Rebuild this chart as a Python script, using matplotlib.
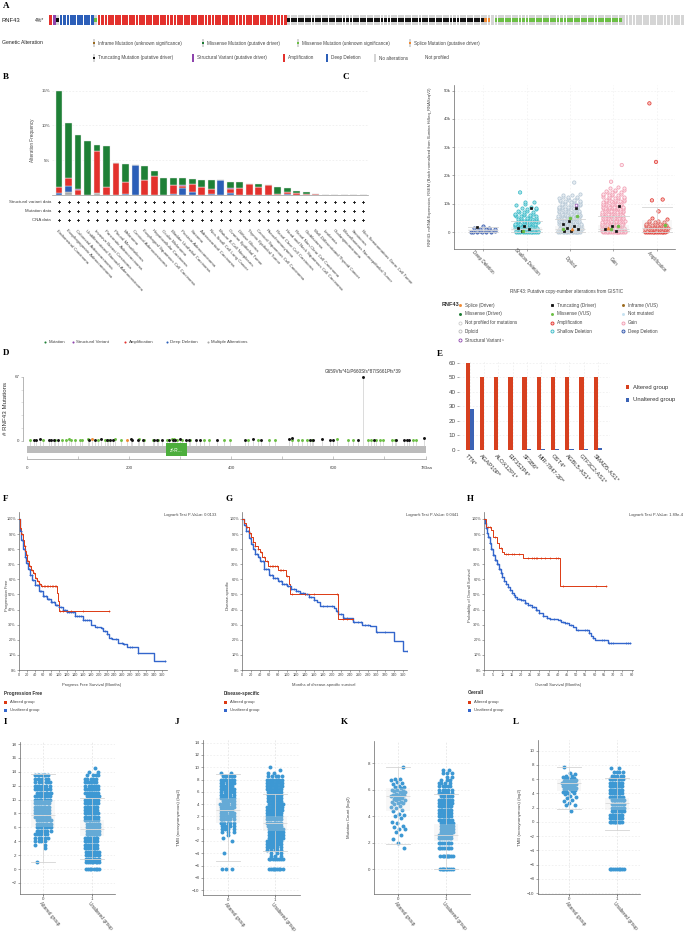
import numpy as np
import matplotlib
matplotlib.use('Agg')
import matplotlib.pyplot as plt
from matplotlib.patches import Rectangle
from matplotlib.transforms import blended_transform_factory as blend

plt.rcParams['font.family'] = ['Liberation Sans', 'DejaVu Sans']
plt.rcParams['axes.linewidth'] = 0.5
plt.rcParams['xtick.major.width'] = 0.4
plt.rcParams['ytick.major.width'] = 0.4
plt.rcParams['xtick.major.size'] = 1.5
plt.rcParams['ytick.major.size'] = 1.5
plt.rcParams['xtick.major.pad'] = 1
plt.rcParams['ytick.major.pad'] = 1

# ---------------- data ----------------
# A: oncoprint, runs of samples
onco_kind = ['amp', 'sv', 'trunc', 'del', 'miss', 'amp', 'trunc', 'splice', 'none', 'miss', 'none']
onco_n = [1, 1, 1, 10, 1, 55, 57, 2, 1, 37, 18]

# B: alteration frequency by cancer type (%)
cancer_types = ['Endometrial Carcinoma', 'Esophagogastric Adenocarcinoma', 'Colorectal Adenocarcinoma',
                'Undifferentiated Stomach Adenocarcinoma', 'Invasive Breast Carcinoma',
                'Pancreatic Adenocarcinoma', 'Pleural Mesothelioma', 'Melanoma', 'Cervical Adenocarcinoma',
                'Esophageal Squamous Cell Carcinoma', 'Hepatocellular Carcinoma', 'Ocular Melanoma',
                'Bladder Urothelial Carcinoma', 'Prostate Adenocarcinoma', 'Sarcoma',
                'Adrenocortical Carcinoma', 'Non-Small Cell Lung Cancer', 'Mature B-Cell Neoplasms',
                'Ovarian Epithelial Tumor', 'Diffuse Glioma', 'Thymic Epithelial Tumor',
                'Cervical Squamous Cell Carcinoma', 'Pheochromocytoma', 'Renal Clear Cell Carcinoma',
                'Head and Neck Squamous Cell Carcinoma', 'Renal Non-Clear Cell Carcinoma', 'Glioblastoma',
                'Well-Differentiated Thyroid Cancer', 'Leukemia', 'Cholangiocarcinoma',
                'Miscellaneous Neuroepithelial Tumor', 'Seminoma', 'Non-Seminomatous Germ Cell Tumor']
b_multi = [0, 0.4, 0, 0, 0.3, 0, 0, 0, 0, 0, 0, 0, 0, 0, 0, 0, 0, 0, 0, 0, 0, 0, 0, 0, 0, 0, 0, 0, 0, 0, 0, 0, 0]
b_del = [0.3, 0.9, 0, 0, 0, 0, 0, 0.2, 4.3, 0, 0, 0, 0.2, 1.0, 0.4, 0, 0.2, 2.1, 0.3, 0, 0, 0, 0, 0, 0.1, 0, 0, 0, 0, 0, 0, 0, 0]
b_amp = [0.8, 1.2, 0.7, 0, 6.0, 1.1, 4.6, 1.6, 0, 2.1, 2.7, 0, 1.2, 0.3, 1.2, 1.1, 0.6, 0, 0.5, 1.0, 1.6, 1.2, 1.4, 0.2, 0.3, 0.3, 0.2, 0.2, 0, 0, 0, 0, 0]
b_sv = [0, 0, 0.15, 0, 0, 0, 0, 0, 0, 0, 0, 0, 0, 0.1, 0, 0, 0, 0, 0.15, 0, 0, 0, 0, 0, 0.1, 0, 0, 0, 0, 0, 0, 0, 0]
b_mut = [13.9, 7.8, 7.8, 7.7, 0.9, 6.0, 0, 2.7, 0, 2.1, 0.8, 2.5, 1.0, 1.0, 0.7, 1.1, 1.3, 0, 0.9, 0.8, 0, 0.4, 0, 1.0, 0.5, 0.3, 0.3, 0, 0, 0, 0, 0, 0]

# C: mRNA expression (k) by copy number; counts of samples per level
cna_names = ['Deep Deletion', 'Shallow Deletion', 'Diploid', 'Gain', 'Amplification']
c_levels = [0, 0.5, 1, 1.5, 2, 2.5, 3, 3.5, 4, 4.5, 5, 5.5, 6, 6.5, 7, 7.5, 8, 8.5, 9, 9.5,
            10, 10.5, 11, 11.5, 12, 12.5, 13, 13.5, 14, 14.5, 15, 15.5, 16]
c_counts = [
    [6, 5, 4, 2, 1, 0, 0, 0, 0, 0, 0, 0, 0, 0, 0, 0, 0, 0, 0, 0, 0, 0, 0, 0, 0, 0, 0, 0, 0, 0, 0, 0, 0],
    [12, 12, 11, 10, 9, 8, 7, 6, 5, 5, 4, 4, 3, 3, 3, 2, 2, 2, 1, 1, 1, 2, 0, 0, 0, 0, 0, 0, 0, 0, 0, 0, 0],
    [14, 14, 13, 12, 11, 10, 9, 9, 8, 8, 7, 7, 6, 6, 6, 5, 5, 5, 5, 4, 4, 4, 4, 3, 3, 3, 2, 1, 0, 0, 0, 0, 0],
    [14, 14, 13, 12, 11, 10, 10, 9, 9, 8, 8, 8, 7, 7, 7, 6, 6, 6, 6, 5, 5, 5, 5, 4, 4, 4, 4, 3, 3, 2, 2, 2, 1],
    [12, 12, 10, 9, 7, 6, 4, 3, 2, 1, 1, 0, 0, 0, 0, 0, 0, 0, 0, 0, 0, 0, 0, 0, 0, 0, 0, 0, 0, 0, 0, 0, 0],
]
c_out_cat = [1, 2, 3, 3, 4, 4, 4, 4, 4]
c_out_val = [14.0, 17.5, 17.8, 23.7, 7.3, 11.2, 11.5, 24.8, 45.5]
c_mut_cat = [0, 1, 1, 1, 1, 1, 2, 2, 2, 2, 2, 2, 2, 2, 3, 3, 3, 3, 1, 2, 2, 2, 3, 3, 4, 2, 3, 2]
c_mut_val = [1.8, 8.4, 2.0, 1.5, 1.0, 0.5, 8.4, 4.0, 3.0, 2.0, 1.5, 1.0, 0.5, 0.3, 9.2, 2.0, 1.0, 0.5,
             0.3, 5.5, 5.0, 1.2, 2.2, 1.0, 2.5, 1.2, 1.5, 9.4]
c_mut_kind = ['trunc'] * 18 + ['vus'] * 7 + ['splice'] * 2 + ['sv']
c_box = [[0, 0.3, 0.6, 1.0, 1.8], [0, 0.4, 0.9, 1.8, 4.0], [0, 0.5, 1.1, 2.0, 4.5],
         [0.2, 0.6, 1.2, 2.5, 5.5], [0, 0.5, 1.5, 4.2, 9.0]]

# D: lollipop (protein position, count)
mis_pos = [5, 31, 55, 68, 77, 82, 86, 93, 103, 108, 119, 139, 153, 158, 173, 184, 220, 230, 247, 256,
           274, 284, 288, 294, 303, 320, 347, 357, 386, 397, 434, 453, 475, 486, 520, 532, 540, 548,
           558, 608, 629, 639, 669, 675, 685, 691, 698, 716, 721, 757, 763]
mis_cnt = [1, 1, 1, 1, 1, 2, 1, 1, 1, 1, 2, 1, 1, 1, 2, 1, 2, 1, 1, 1, 1, 2, 2, 1, 1, 1, 1, 1, 1, 1,
           1, 1, 1, 1, 1, 1, 1, 1, 1, 2, 1, 1, 1, 1, 1, 1, 1, 1, 1, 1, 1]
trunc_pos = [13, 18, 25, 42, 47, 52, 60, 121, 134, 145, 157, 163, 168, 204, 206, 217, 227, 248, 254,
             264, 279, 287, 290, 300, 312, 318, 331, 339, 372, 427, 442, 458, 514, 519, 554, 561, 578,
             594, 600, 649, 659, 681, 724, 740, 744, 749, 778]
trunc_cnt = [1, 1, 2, 1, 1, 1, 1, 1, 1, 2, 1, 1, 1, 2, 1, 1, 1, 1, 1, 1, 1, 1, 1, 2, 1, 1, 1, 1, 1,
             1, 2, 1, 2, 3, 1, 1, 2, 1, 1, 1, 67, 1, 1, 1, 1, 1, 3]
splice_pos = [127, 196]
splice_cnt = [2, 1]
hotspot_label = 'G659Vfs*41/P660Sfs*87/S661Pfs*39'

# E: co-occurring genes (%)
e_genes = ['TTN*', 'AGAP10P*', 'ALOX12P1*', 'EIF3S2P4*', 'SF3B6*', 'MIR-7847-3P*', 'OST4*',
           'AGBL5-AS1*', 'GTF3C2-AS1*', 'SMAD5-AS1*']
e_altered = [60, 50, 50, 50, 50, 50, 50, 50, 50, 50]
e_unaltered = [28.5, 0.3, 0.3, 0.3, 1.0, 0.6, 1.0, 1.0, 1.0, 1.2]

# F, G, H: Kaplan-Meier steps
f_alt_t = [0, 3, 6, 9, 12, 15, 18, 21, 25, 30, 35, 40, 45, 50, 55, 95, 97, 100]
f_alt_s = [1.0, 0.94, 0.90, 0.86, 0.82, 0.79, 0.76, 0.72, 0.69, 0.66, 0.64, 0.61, 0.59, 0.57, 0.555, 0.51, 0.46, 0.39]
f_alt_end = 225
f_alt_c = [8, 14, 20, 23, 28, 33, 38, 42, 48, 52, 58, 62, 66, 70, 74, 78, 82, 86, 90, 93, 102, 110, 130, 160, 225]
f_un_t = [0, 3, 6, 10, 14, 18, 22, 27, 33, 40, 50, 60, 70, 80, 90, 100, 110, 120, 140, 160, 180, 190,
          205, 212, 220, 226, 235, 248, 262, 272, 300, 340]
f_un_s = [1.0, 0.92, 0.86, 0.80, 0.75, 0.71, 0.67, 0.63, 0.595, 0.56, 0.52, 0.49, 0.47, 0.45, 0.43, 0.415,
          0.40, 0.385, 0.355, 0.33, 0.30, 0.285, 0.275, 0.255, 0.24, 0.215, 0.205, 0.18, 0.17, 0.15, 0.11, 0.06]
f_un_end = 368
f_un_c = [5, 8, 12, 16, 20, 24, 28, 32, 36, 40, 44, 48, 52, 56, 60, 64, 68, 72, 76, 80, 84, 88, 92, 96,
          100, 105, 110, 115, 120, 125, 130, 135, 140, 145, 150, 155, 160, 165, 170, 175, 195, 208, 215,
          222, 230, 245, 258, 265, 280, 285, 300, 368]

g_alt_t = [0, 5, 10, 15, 20, 25, 30, 35, 40, 45, 52, 58, 80, 98, 105, 108, 215]
g_alt_s = [1.0, 0.97, 0.945, 0.91, 0.88, 0.85, 0.82, 0.80, 0.78, 0.75, 0.72, 0.69, 0.665, 0.625, 0.57, 0.505, 0.34]
g_alt_end = 247
g_alt_c = [12, 18, 25, 30, 36, 42, 48, 55, 62, 66, 70, 74, 78, 84, 88, 92, 100, 112, 140, 160, 212, 225, 235, 245]
g_un_t = [0, 5, 10, 15, 20, 25, 30, 35, 40, 50, 60, 70, 80, 90, 100, 110, 120, 130, 140, 150, 160, 168,
          175, 205, 210, 215, 225, 248, 268, 285, 298, 340, 358]
g_un_s = [1.0, 0.96, 0.92, 0.875, 0.835, 0.80, 0.77, 0.745, 0.72, 0.67, 0.63, 0.61, 0.59, 0.57, 0.555,
          0.535, 0.52, 0.51, 0.50, 0.48, 0.465, 0.45, 0.425, 0.41, 0.39, 0.37, 0.345, 0.32, 0.30, 0.29,
          0.25, 0.19, 0.125]
g_un_end = 368
g_un_c = [6, 10, 14, 18, 22, 26, 30, 34, 38, 42, 46, 50, 54, 58, 62, 66, 70, 74, 78, 82, 86, 90, 94, 98,
          102, 106, 110, 115, 120, 125, 130, 135, 140, 145, 150, 155, 160, 180, 190, 200, 212, 220, 228,
          235, 250, 258, 265, 275, 280, 300, 318, 368]

h_alt_t = [0, 1, 4, 5, 7, 8, 10, 11, 21, 41]
h_alt_s = [1.0, 0.95, 0.93, 0.88, 0.84, 0.81, 0.78, 0.77, 0.74, 0.555]
h_alt_end = 66
h_alt_c = [2, 3, 6, 9, 12, 13, 15, 16, 19, 24, 26, 27, 28, 29, 31, 33, 36, 39, 40, 43, 61, 66]
h_un_t = [0, 0.5, 1, 1.5, 2, 3, 4, 5, 6, 7, 8, 9, 10, 11, 12, 13, 14, 15, 16, 17, 18, 20, 22, 24, 26,
          28, 30, 32, 34, 36, 40, 42, 44, 46, 48, 50, 57, 58, 59, 60, 67]
h_un_s = [1.0, 0.97, 0.94, 0.91, 0.88, 0.84, 0.80, 0.76, 0.73, 0.70, 0.67, 0.64, 0.615, 0.59, 0.57, 0.55,
          0.53, 0.51, 0.495, 0.48, 0.47, 0.465, 0.445, 0.43, 0.415, 0.40, 0.38, 0.36, 0.345, 0.335, 0.33,
          0.32, 0.31, 0.30, 0.285, 0.265, 0.245, 0.225, 0.215, 0.20, 0.18]
h_un_end = 79
h_un_c = [0.5, 1, 1.5, 2, 2.5, 3, 3.5, 4, 4.5, 5, 5.5, 6, 6.5, 7, 7.5, 8, 8.5, 9, 9.5, 10, 11, 12, 13,
          14, 15, 16, 17, 18, 19, 20, 21, 22, 23, 24, 25, 26, 27, 28, 29, 30, 32, 34, 36, 38, 41, 43,
          44, 45, 47, 51, 55, 56, 57, 59, 64, 65, 68, 69, 70, 77, 78, 79]

groups = ['Altered group', 'Unaltered group']

# I: unnamed log2 measure
i_levels = [0, 0.5, 1, 1.5, 2, 2.5, 3, 3.5, 4, 4.5, 5, 5.5, 6, 6.5, 7, 7.5, 8, 8.5, 9, 9.5,
            10, 10.5, 11, 11.5, 12, 12.5, 13, 13.5, 14, 14.5]
i_alt_n = [0, 0, 1, 0, 0, 0, 1, 2, 4, 5, 6, 7, 8, 8, 8, 8, 8, 8, 8, 8, 8, 8, 8, 8, 7, 6, 6, 7, 0, 0]
i_un_n = [8, 0, 8, 8, 8, 8, 8, 8, 8, 8, 8, 8, 8, 8, 8, 8, 8, 8, 8, 8, 8, 8, 8, 8, 7, 6, 5, 4, 2, 1]
i_box = [[1.0, 6.0, 7.8, 10.0, 13.7], [1.5, 4.8, 5.8, 7.0, 10.3]]

# J: TMB (log2)
j_levels = [-6.6, -5, -4.5, -4, -3.5, -3, -2.5, -2, -1.5, -1, -0.5, 0, 0.5, 1, 1.5, 2, 2.5, 3, 3.5, 4,
            4.5, 5, 5.5, 6, 6.5, 7, 7.5, 8, 8.5, 9, 9.5, 10]
j_alt_n = [3, 0, 0, 1, 0, 0, 0, 1, 1, 1, 3, 4, 5, 6, 7, 7, 7, 7, 7, 7, 7, 7, 7, 7, 7, 7, 7, 7, 7, 2, 0, 0]
j_un_n = [9, 8, 3, 3, 5, 7, 8, 8, 8, 8, 8, 8, 8, 8, 8, 8, 8, 8, 8, 8, 8, 8, 8, 8, 8, 8, 8, 8, 5, 2, 1, 1]
j_box = [[-5.2, 1.0, 3.0, 5.0, 8.9], [-3.6, -0.3, 0.9, 2.0, 5.6]]

# K: mutation count (log2)
k_alt = [1.6, 2.0, 2.3, 2.6, 2.8, 3.0, 3.0, 3.2, 3.3, 3.5, 3.6, 3.9, 4.0, 4.1, 4.2, 4.4, 4.5, 4.6, 4.7,
         4.8, 4.9, 5.0, 5.0, 5.1, 5.1, 5.2, 5.2, 5.3, 5.3, 5.4, 5.4, 5.5, 5.5, 5.5, 5.6, 5.6, 5.6, 5.7,
         5.7, 5.8, 5.8, 5.9, 5.9, 6.0, 6.0, 6.1, 6.2, 6.2, 6.3, 6.4, 6.5, 6.6, 6.7, 6.8, 6.8, 7.7]
k_levels = [0, 1, 1.58, 2, 2.32, 2.58, 2.81, 3.0, 3.25, 3.5, 3.75, 4.0, 4.25, 4.5, 4.75, 5.0, 5.25, 5.5,
            5.75, 6.0, 6.25, 6.5, 6.75, 7.0, 7.25, 7.5]
k_un_n = [9, 9, 8, 8, 8, 8, 8, 8, 8, 8, 8, 8, 8, 8, 8, 8, 8, 7, 6, 5, 5, 4, 3, 2, 3, 2]
k_box = [[1.9, 4.4, 5.5, 6.1, 7.7], [0.0, 2.1, 2.6, 3.4, 5.7]]

# L: TMB (log2)
l_alt = [1.5, 2.3, 2.4, 2.7, 2.9, 3.1, 3.3, 3.5, 3.7, 3.9, 4.0, 4.1, 4.2, 4.3, 4.4, 4.5, 4.6, 4.6, 4.7,
         4.8, 4.8, 4.9, 5.0, 5.0, 5.1, 5.1, 5.2, 5.2, 5.3, 5.3, 5.4, 5.4, 5.5, 5.5, 5.6, 5.6, 5.7, 5.7,
         5.8, 5.8, 5.9, 5.9, 6.0, 6.0, 6.1, 6.2, 6.3, 6.4, 6.5, 6.7, 6.9, 7.7]
l_levels = [-6.6, 0, 0.5, 1, 1.5, 2, 2.5, 3, 3.5, 4, 4.5, 5, 5.5, 6, 6.5, 7, 7.5]
l_un_n = [9, 9, 8, 8, 8, 8, 8, 8, 8, 8, 8, 8, 8, 7, 5, 4, 2]
l_box = [[1.8, 4.4, 5.4, 6.0, 7.7], [-1.2, 1.6, 2.6, 3.3, 6.1]]

# ---------------- style ----------------
C_AMP = '#e3312d'
C_DEL = '#2c5fb8'
C_SV = '#8e44ad'
C_MUT = '#1e8036'
C_MISS = '#6bbf44'
C_MISSD = '#1a7a32'
C_TRUNC = '#111111'
C_SPLICE = '#f08a34'
C_INFR = '#9b6a1e'
C_BG = '#d5d5d5'
C_MULTI = '#a8a8a8'
KM_RED = '#dc3912'
KM_BLUE = '#3366cc'
DOT_BLUE = '#3d98d3'
TXT = '#444444'
SERIF = ['Liberation Serif', 'DejaVu Serif']

W, H = 685, 933
fig = plt.figure(figsize=(W / 100, H / 100), dpi=100)


def px_axes(l, t, r, b):
    return fig.add_axes([l / W, 1 - b / H, (r - l) / W, (b - t) / H])


ov = fig.add_axes([0, 0, 1, 1], zorder=20)
ov.set_xlim(0, W)
ov.set_ylim(H, 0)
ov.axis('off')


def letter(x, y, s):
    ov.text(x, y, s, fontsize=6.5, fontweight='bold', family=SERIF, ha='left', va='center')


def spread(n, half, seed):
    k = np.arange(n)
    return ((k * 0.618034 + seed * 0.377) % 1.0 - 0.5) * 2 * half


def clean(ax):
    for sp in ['top', 'right']:
        ax.spines[sp].set_visible(False)
    for sp in ['left', 'bottom']:
        ax.spines[sp].set_color('#666666')
    ax.tick_params(colors='#666666', labelcolor=TXT, labelsize=3.2)


def boxes(ax, stats, width=0.5):
    st = [dict(whislo=s[0], q1=s[1], med=s[2], q3=s[3], whishi=s[4]) for s in stats]
    ax.bxp(st, positions=range(len(st)), widths=width, capwidths=width, showfliers=False,
           patch_artist=True, zorder=3,
           boxprops=dict(facecolor=(0.88, 0.88, 0.88, 0.25), edgecolor='none'),
           medianprops=dict(color='#dadada', lw=0.6),
           whiskerprops=dict(color='#d4d4d4', lw=0.5),
           capprops=dict(color='#d4d4d4', lw=0.6))


# ---------------- A ----------------
letter(3, 6, 'A')
axA = px_axes(49, 15, 684, 25)
kinds = np.repeat(onco_kind, onco_n)
xs = np.arange(len(kinds))
axA.bar(xs, 1, width=0.82, color=C_BG, lw=0)
full = {'amp': C_AMP, 'del': C_DEL, 'sv': C_SV}
mid = {'trunc': C_TRUNC, 'miss': C_MISS, 'splice': C_SPLICE}
for k, c in full.items():
    m = kinds == k
    axA.bar(xs[m], 1, width=0.82, color=c, lw=0)
for k, c in mid.items():
    m = kinds == k
    axA.bar(xs[m], 0.34, bottom=0.33, width=0.82, color=c, lw=0)
axA.set_xlim(-0.5, len(kinds) - 0.5)
axA.set_ylim(0, 1)
axA.axis('off')
ov.text(2, 20, 'RNF43', fontsize=4.2, color='#222222', va='center')
ov.text(35, 20, '4%*', fontsize=3.6, color='#222222', va='center')
ov.text(2, 43, 'Genetic Alteration', fontsize=3.7, color='#222222', va='center')

leg_a = [(94, 43, 'inframe', 'Inframe Mutation (unknown significance)'),
         (203, 43, 'missd', 'Missense Mutation (putative driver)'),
         (298, 43, 'miss', 'Missense Mutation (unknown significance)'),
         (410, 43, 'splice', 'Splice Mutation (putative driver)'),
         (94, 58, 'trunc', 'Truncating Mutation (putative driver)'),
         (193, 58, 'sv', 'Structural Variant (putative driver)'),
         (284, 58, 'amp', 'Amplification'),
         (327, 58, 'del', 'Deep Deletion'),
         (375, 58, 'none', 'No alterations'),
         (421, 58, 'np', 'Not profiled')]
sw_col = {'inframe': C_INFR, 'missd': C_MISSD, 'miss': C_MISS, 'splice': C_SPLICE, 'trunc': C_TRUNC,
          'sv': C_SV, 'amp': C_AMP, 'del': C_DEL, 'none': C_BG}
for x, y, k, lab in leg_a:
    if k == 'np':
        ov.add_patch(Rectangle((x - 1.2, y - 0.3), 2.5, 0.6, color='#bbbbbb', lw=0))
    elif k in ('sv', 'amp', 'del', 'none'):
        ov.add_patch(Rectangle((x - 1.2, y - 4), 2.5, 8, color=sw_col[k], lw=0))
    else:
        ov.add_patch(Rectangle((x - 1.2, y - 4), 2.5, 8, color=C_BG, lw=0))
        ov.add_patch(Rectangle((x - 1.2, y - 1.4), 2.5, 2.8, color=sw_col[k], lw=0))
    ov.text(x + 4, y, lab, fontsize=3.3, color=TXT, va='center')

# ---------------- B ----------------
letter(3, 77, 'B')
axB = px_axes(52, 85, 368, 195)
nb = len(cancer_types)
xb = np.arange(nb)
bottom = np.zeros(nb)
for vals, c in [(b_multi, C_MULTI), (b_del, C_DEL), (b_amp, C_AMP), (b_sv, C_SV), (b_mut, C_MUT)]:
    v = np.array(vals)
    axB.bar(xb, v, bottom=bottom, width=0.72, color=c, edgecolor='#e8e8e8', lw=0.3, zorder=2)
    bottom += v
axB.set_xlim(-0.74, 32.5)
axB.set_ylim(0, 15.8)
axB.set_yticks([5, 10, 15])
axB.set_yticklabels(['5%', '10%', '15%'])
axB.set_xticks([])
axB.grid(axis='y', ls=(0, (3, 3)), color='#e6e6e6', lw=0.4)
axB.set_axisbelow(True)
clean(axB)
axB.spines['left'].set_visible(False)
axB.spines['bottom'].set_color('#999999')
axB.tick_params(axis='y', length=0)
axB.set_ylabel('Alteration Frequency', fontsize=3.3, color=TXT, labelpad=5)
tb = blend(axB.transData, ov.transData)
for row, (lab, y) in enumerate([('Structural variant data', 201.7), ('Mutation data', 210.7), ('CNA data', 219.7)]):
    ov.text(51, y, lab, fontsize=3.2, color=TXT, ha='right', va='center')
    ov.plot(xb, [y] * nb, 'P', transform=tb, ms=2.0, color='#111111', mew=0, clip_on=False)
for i, name in enumerate(cancer_types):
    ov.text(i - 0.2, 230, name, transform=tb, fontsize=3.2, color=TXT, rotation=-47,
            ha='left', va='center', rotation_mode='anchor')
for x, c, lab in [(45, C_MUT, 'Mutation'), (73, C_SV, 'Structural Variant'), (125, C_AMP, 'Amplification'),
                  (167, C_DEL, 'Deep Deletion'), (208, C_MULTI, 'Multiple Alterations')]:
    ov.plot(x, 342, 'o', ms=1.5, color=c, mew=0)
    ov.text(x + 3.5, 342, lab, fontsize=3.2, color=TXT, va='center')

# ---------------- C ----------------
letter(343, 77, 'C')
axC = px_axes(454, 85, 675, 249)
cna_edge = ['#2e53a8', '#35b8c6', '#b4c6d4', '#f19bb0', '#e0352f']
cna_face = ['#a9badf', '#a8e3e8', '#e6edf2', '#fde6ec', '#f7c0bc']
boxes(axC, c_box, width=0.7)
for j in range(5):
    px, py = [], []
    for i, (lv, n) in enumerate(zip(c_levels, c_counts[j])):
        if n:
            px.extend(j + spread(n, 0.27, i + 5 * j))
            py.extend([lv] * n)
    axC.scatter(px, py, s=5.5, facecolor=cna_face[j], edgecolor=cna_edge[j], lw=0.5, zorder=2)
oc = np.array(c_out_cat)
axC.scatter(oc + spread(len(oc), 0.2, 3), c_out_val, s=6,
            facecolor=[cna_face[k] for k in oc], edgecolor=[cna_edge[k] for k in oc], lw=0.5, zorder=2)
mk = {'trunc': ('s', C_TRUNC, C_TRUNC), 'vus': ('o', C_MISS, C_MISS),
      'splice': ('^', C_SPLICE, C_SPLICE), 'sv': ('o', 'white', C_SV)}
mc = np.array(c_mut_cat)
mx = mc + spread(len(mc), 0.2, 11)
for k, (m, fc, ec) in mk.items():
    sel = np.array([kk == k for kk in c_mut_kind])
    axC.scatter(mx[sel], np.array(c_mut_val)[sel], marker=m, s=4, facecolor=fc, edgecolor=ec,
                lw=0.5, zorder=4)
axC.set_xlim(-0.67, 4.42)
axC.set_ylim(-6, 52)
axC.set_yticks([0, 10, 20, 30, 40, 50])
axC.set_yticklabels(['0', '10k', '20k', '30k', '40k', '50k'])
axC.set_xticks(range(5))
axC.set_xticklabels([])
axC.grid(True, ls=(0, (3, 3)), color='#ececec', lw=0.4)
axC.set_axisbelow(True)
clean(axC)
tc = blend(axC.transData, ov.transData)
for j, name in enumerate(cna_names):
    ov.text(j, 262, name, transform=tc, fontsize=3.3, color=TXT, rotation=-47,
            ha='center', va='center', rotation_mode='anchor')
ov.text(430, 167, 'RNF43: mRNA Expression, RSEM (Batch normalized from Illumina HiSeq_RNASeqV2)',
        fontsize=3.0, color=TXT, rotation=90, ha='center', va='center')
ov.text(567, 291, 'RNF43: Putative copy-number alterations from GISTIC', fontsize=3.3, color=TXT,
        ha='center', va='center')
ov.text(442, 305, 'RNF43', fontsize=4.0, fontweight='bold', color='#333333', va='center')
leg_c = [
    (460, 305, 'o', C_SPLICE, C_SPLICE, 'Splice (Driver)'),
    (460, 313.7, 'o', C_MISSD, C_MISSD, 'Missense (Driver)'),
    (460, 322.7, 'o', 'white', '#cccccc', 'Not profiled for mutations'),
    (460, 331.3, 'o', 'white', '#bbbbbb', 'Diploid'),
    (460, 340, 'o', 'white', C_SV, 'Structural Variant \u00b9'),
    (552, 305, 's', C_TRUNC, C_TRUNC, 'Truncating (Driver)'),
    (552, 313.7, 'o', C_MISS, C_MISS, 'Missense (VUS)'),
    (552, 322.7, 'o', '#f7c0bc', C_AMP, 'Amplification'),
    (552, 331.3, 'o', '#d8f2f4', '#35b8c6', 'Shallow Deletion'),
    (623, 305, 'o', C_INFR, C_INFR, 'Inframe (VUS)'),
    (623, 313.7, 'o', '#c6e2f2', '#c6e2f2', 'Not mutated'),
    (623, 322.7, 'o', '#fde6ec', '#f19bb0', 'Gain'),
    (623, 331.3, 'o', '#c8d2ee', '#2e53a8', 'Deep Deletion'),
]
for x, y, m, fc, ec, lab in leg_c:
    big = fc in ('white', '#f7c0bc', '#d8f2f4', '#fde6ec', '#c8d2ee')
    ov.plot(x, y, m, ms=2.2 if big else 1.5, mfc=fc, mec=ec, mew=0.6)
    ov.text(x + 5, y, lab, fontsize=3.3, color=TXT, va='center')

# ---------------- D ----------------
letter(3, 353, 'D')
axD = px_axes(23, 375, 430, 462)
axD.set_xlim(-8, 790)
axD.set_ylim(-22.5, 69)
axD.add_patch(Rectangle((0, -13.5), 783, 7.5, color='#bcbcbc', lw=0, zorder=1))
axD.add_patch(Rectangle((272, -17), 41, 14, color='#4cae3c', lw=0, zorder=2))
axD.text(292.5, -10, 'zf-R...', fontsize=3.4, color='white', ha='center', va='center', zorder=3)
for pos, cnt, col in [(mis_pos, mis_cnt, C_MISS), (trunc_pos, trunc_cnt, C_TRUNC),
                      (splice_pos, splice_cnt, C_SPLICE)]:
    axD.vlines(pos, -6, cnt, color='#c8c8c8', lw=0.45, zorder=1)
for pos, cnt, col in [(mis_pos, mis_cnt, C_MISS), (trunc_pos, trunc_cnt, C_TRUNC),
                      (splice_pos, splice_cnt, C_SPLICE)]:
    axD.scatter(pos, cnt, s=4.5, color=col, lw=0, zorder=4)
top_i = int(np.argmax(trunc_cnt))
axD.text(trunc_pos[top_i], trunc_cnt[top_i] + 3, hotspot_label, fontsize=3.3, color='#333333',
         ha='center', va='bottom')
for sp in ['top', 'right', 'bottom']:
    axD.spines[sp].set_visible(False)
axD.spines['left'].set_bounds(0, 67)
axD.spines['left'].set_color('#999999')
axD.set_xticks([])
axD.set_yticks([0, 67])
axD.set_yticks([13.4, 26.8, 40.2, 53.6], minor=True)
axD.tick_params(axis='y', labelsize=3.2, colors='#999999', labelcolor=TXT, length=1.5)
axD.tick_params(axis='y', which='minor', length=1.2, width=0.4, colors='#cccccc')
ov.text(6, 408, '# RNF43 Mutations', fontsize=4.4, color='#333333', rotation=90, ha='center', va='center')
axR = px_axes(23, 456, 430, 459)
axR.set_xlim(-8, 790)
axR.set_ylim(0, 1)
for sp in ['top', 'right', 'left']:
    axR.spines[sp].set_visible(False)
axR.spines['bottom'].set_bounds(0, 783)
axR.spines['bottom'].set_color('#999999')
axR.set_yticks([])
axR.set_xticks([0, 100, 200, 300, 400, 500, 600, 700, 783])
axR.set_xticklabels(['0', '', '200', '', '400', '', '600', '', '783aa'])
axR.tick_params(axis='x', direction='in', length=2, labelsize=3.2, colors='#999999', labelcolor=TXT, pad=5)

# ---------------- E ----------------
letter(437, 354, 'E')
axE = px_axes(459, 360, 610, 450)
xe = np.arange(len(e_genes))
axE.bar(xe - 0.15, e_altered, width=0.3, color='#d7401f', lw=0, zorder=2)
axE.bar(xe + 0.15, e_unaltered, width=0.3, color='#3b63b5', lw=0, zorder=2)
axE.set_xlim(-0.77, 9.86)
axE.set_ylim(0, 62)
axE.set_yticks([0, 10, 20, 30, 40, 50, 60])
axE.set_xticks(xe)
axE.set_xticklabels([])
axE.grid(True, ls=(0, (3, 3)), color='#e8e8e8', lw=0.4)
axE.set_axisbelow(True)
clean(axE)
axE.spines['left'].set_visible(False)
axE.spines['bottom'].set_visible(False)
axE.tick_params(axis='y', labelsize=4.5, length=1.5)
axE.tick_params(axis='x', length=0)
te = blend(axE.transData, ov.transData)
for i, g in enumerate(e_genes):
    ov.text(i - 0.25, 455, g, transform=te, fontsize=4.2, color='#333333', rotation=-48,
            ha='left', va='center', rotation_mode='anchor')
for y, c, lab in [(387, '#d7401f', 'Altered group'), (400, '#3b63b5', 'Unaltered group')]:
    ov.add_patch(Rectangle((626, y - 1.6), 3.2, 3.2, color=c, lw=0))
    ov.text(633, y, lab, fontsize=4.2, color='#333333', va='center')


# ---------------- F, G, H ----------------
def km(ax, t, s, end, cens, color, lw):
    tt = list(t) + [end]
    ss = list(s) + [s[-1]]
    ax.step(tt, ss, where='post', color=color, lw=lw, zorder=3)
    cy = np.array(s)[np.searchsorted(t, cens, side='right') - 1]
    ax.plot(cens, cy, '+', color=color, ms=2.0, mew=0.5, zorder=4)


def km_axes(l, r, xmax, xticks, xlab, ylab, ylab_x, pval, pval_x, title, leg_x, let, let_x, xlab_x):
    letter(let_x, 499, let)
    ax = px_axes(l, 512, r, 670)
    ax.set_xlim(0, xmax)
    ax.set_ylim(0, 1.046)
    ax.set_xticks(xticks)
    ax.set_yticks(np.arange(0, 1.01, 0.1))
    ax.set_yticklabels(['%d%%' % v for v in range(0, 101, 10)])
    clean(ax)
    ax.tick_params(labelsize=2.7, length=1.2)
    ov.text(ylab_x, 595, ylab, fontsize=3.0, color=TXT, rotation=90, ha='center', va='center')
    ov.text(xlab_x, 685, xlab, fontsize=3.0, color=TXT, ha='center', va='center')
    ov.text(pval_x, 515, pval, fontsize=2.9, color=TXT, ha='right', va='center')
    ov.text(leg_x - 2, 693, title, fontsize=3.3, fontweight='bold', color='#333333', va='center')
    for y, c, lab in [(702, KM_RED, 'Altered group'), (710, KM_BLUE, 'Unaltered group')]:
        ov.add_patch(Rectangle((leg_x - 1.5, y - 1.5), 3, 3, color=c, lw=0))
        ov.text(leg_x + 4, y, lab, fontsize=3.0, color=TXT, va='center')
    return ax


axF = km_axes(19, 167, 372, range(0, 361, 20), 'Progress Free Survival (Months)', 'Progression Free', 7,
              'Logrank Test P-Value: 0.0133', 216, 'Progression Free', 6, 'F', 3, 92)
km(axF, f_un_t, f_un_s, f_un_end, f_un_c, KM_BLUE, 1.0)
km(axF, f_alt_t, f_alt_s, f_alt_end, f_alt_c, KM_RED, 0.7)
axG = km_axes(242, 407, 368, range(0, 361, 20), 'Months of disease-specific survival', 'Disease-specific',
              228, 'Logrank Test P-Value: 0.0441', 458, 'Disease-specific', 226, 'G', 226, 324)
km(axG, g_un_t, g_un_s, g_un_end, g_un_c, KM_BLUE, 1.0)
km(axG, g_alt_t, g_alt_s, g_alt_end, g_alt_c, KM_RED, 0.7)
axH = km_axes(484, 633, 80.8, range(0, 81, 5), 'Overall Survival (Months)', 'Probability of Overall Survival',
              470, 'Logrank Test P-Value: 1.89e-4', 683, 'Overall', 470, 'H', 467, 558)
km(axH, h_un_t, h_un_s, h_un_end, h_un_c, KM_BLUE, 1.0)
km(axH, h_alt_t, h_alt_s, h_alt_end, h_alt_c, KM_RED, 0.7)


# ---------------- I - L ----------------
def strip_axes(l, t, r, b, xlim, ylim, yticks, box_stats, ylab, ylab_x, let, let_x):
    letter(let_x, 722, let)
    ax = px_axes(l, t, r, b)
    ax.set_xlim(xlim)
    ax.set_ylim(ylim)
    ax.set_yticks(yticks)
    ax.set_xticks([0, 1])
    ax.set_xticklabels([])
    ax.grid(True, ls=(0, (3, 3)), color='#e6e6e6', lw=0.4)
    ax.set_axisbelow(True)
    clean(ax)
    boxes(ax, box_stats)
    if ylab:
        ov.text(ylab_x, (t + b) / 2, ylab, fontsize=3.2, color=TXT, rotation=90, ha='center', va='center')
    ts = blend(ax.transData, ov.transData)
    for j, g in enumerate(groups):
        ov.text(j - 0.06, b + 8, g, transform=ts, fontsize=3.4, color=TXT, rotation=-50,
                ha='left', va='center', rotation_mode='anchor')
    return ax


def levels_strip(ax, pos, levels, counts, half, seed):
    px, py = [], []
    for i, (lv, n) in enumerate(zip(levels, counts)):
        if n:
            px.extend(pos + spread(n, half, i + seed))
            py.extend([lv] * n)
    ax.scatter(px, py, s=8, color=DOT_BLUE, lw=0, zorder=2)


def values_strip(ax, pos, vals, half, seed):
    ax.scatter(pos + spread(len(vals), half, seed), vals, s=8, color=DOT_BLUE, lw=0, zorder=2)


axI = strip_axes(20, 742, 115, 894, (-0.47, 1.47), (-3.6, 18.3), range(-2, 19, 2), i_box, None, 0, 'I', 4)
levels_strip(axI, 0, i_levels, i_alt_n, 0.17, 1)
levels_strip(axI, 1, i_levels, i_un_n, 0.15, 2)

axJ = strip_axes(203, 740, 300, 895, (-0.53, 1.53), (-10.8, 14.44), range(-10, 15, 2), j_box,
                 'TMB (nonsynonymous) (log2)', 179, 'J', 175)
levels_strip(axJ, 0, j_levels, j_alt_n, 0.16, 3)
levels_strip(axJ, 1, j_levels, j_un_n, 0.17, 4)

axK = strip_axes(374, 741, 470, 894, (-0.5, 1.5), (-1.87, 9.68), range(0, 9, 2), k_box,
                 'Mutation Count (log2)', 349, 'K', 341)
values_strip(axK, 0, k_alt, 0.15, 5)
levels_strip(axK, 1, k_levels, k_un_n, 0.15, 6)

axL = strip_axes(538, 740, 640, 894, (-0.65, 1.48), (-10.14, 11.5), range(-10, 11, 2), l_box,
                 'TMB (nonsynonymous) (log2)', 520, 'L', 513)
values_strip(axL, 0, l_alt, 0.15, 7)
levels_strip(axL, 1, l_levels, l_un_n, 0.15, 8)

fig.savefig('out.png', dpi=100)
